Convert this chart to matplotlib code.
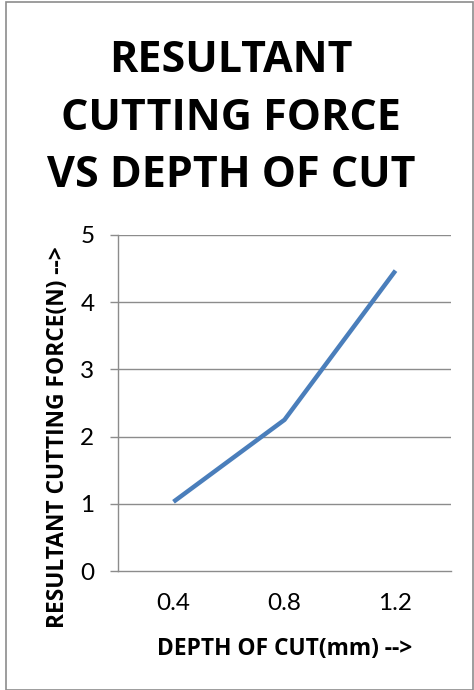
import numpy as np
import matplotlib
matplotlib.use("Agg")
import matplotlib.pyplot as plt
from matplotlib.patches import Rectangle

# Data
depth_labels = ["0.4", "0.8", "1.2"]
force = [1.03, 2.25, 4.47]
y_ticks = [0, 1, 2, 3, 4, 5]

plt.rcParams['font.family'] = ['Lato', 'DejaVu Sans']
bold_font = ['Open Sans', 'DejaVu Sans']

W, H = 474, 690
fig = plt.figure(figsize=(W / 100, H / 100), dpi=100)

# outer chart border
fig.patches.append(Rectangle((6 / W, 0.5 / H), (W - 7) / W, (H - 2.5) / H,
                             transform=fig.transFigure, fill=False,
                             edgecolor="#8c8c8c", linewidth=1.2))

ax = fig.add_axes([118 / W, 1 - 571 / H, (451 - 118) / W, (571 - 235) / H])

x = np.arange(len(depth_labels))
ax.plot(x, force, color="#4A7EBB", linewidth=3.2, solid_capstyle="butt")

ax.set_xlim(-0.5, len(depth_labels) - 0.5)
ax.set_ylim(0, 5)
ax.set_yticks(y_ticks)
ax.set_xticks(x)
ax.set_xticklabels(depth_labels)

for y in y_ticks[1:]:
    ax.axhline(y, color="#8c8c8c", linewidth=1.0, zorder=0)

for s in ["top", "right"]:
    ax.spines[s].set_visible(False)
for s in ["left", "bottom"]:
    ax.spines[s].set_color("#8c8c8c")
    ax.spines[s].set_linewidth(1.0)

ax.tick_params(axis="y", length=6, width=1.0, color="#8c8c8c", pad=11,
               labelsize=17.5, labelcolor="black")
ax.tick_params(axis="x", length=0, pad=16, labelsize=17.5, labelcolor="black")

fig.text(231 / W, 1 - 118 / H, "RESULTANT\nCUTTING FORCE\nVS DEPTH OF CUT",
         ha="center", va="center", fontsize=31, fontweight="bold",
         family=bold_font, linespacing=1.45)

fig.text(58 / W, 1 - 437 / H, "RESULTANT CUTTING FORCE(N) -->",
         rotation=90, ha="center", va="center", fontsize=16.4, fontweight="bold",
         family=bold_font)

fig.text(285 / W, 1 - 649 / H, "DEPTH OF CUT(mm) -->",
         ha="center", va="center", fontsize=16.4, fontweight="bold",
         family=bold_font)

fig.savefig("out.png", dpi=100)
